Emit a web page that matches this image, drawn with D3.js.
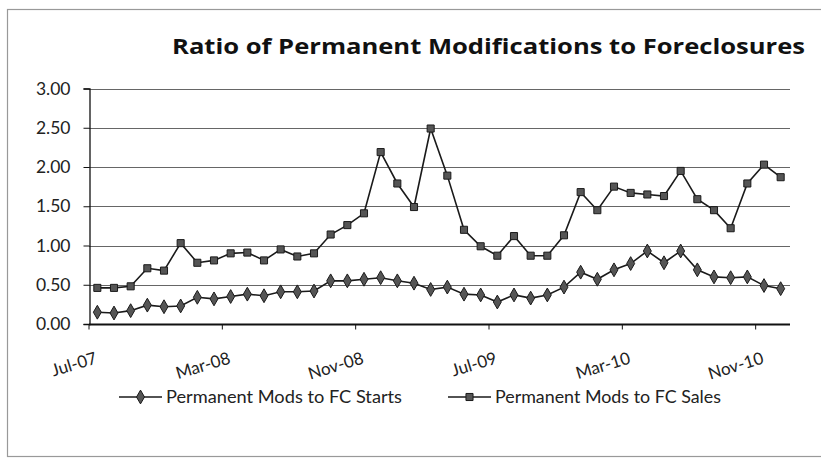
<!DOCTYPE html>
<html><head><meta charset="utf-8">
<script src="https://cdn.jsdelivr.net/npm/d3@7"></script>
<style>
html,body{margin:0;padding:0;background:#fff;}
svg{display:block;}
text{font-family:Lato,"Open Sans",sans-serif;fill:#222;}
</style></head>
<body><svg id="c" width="821" height="458"></svg>
<script>
const months = ["Jul-07","Aug-07","Sep-07","Oct-07","Nov-07","Dec-07",
"Jan-08","Feb-08","Mar-08","Apr-08","May-08","Jun-08","Jul-08","Aug-08","Sep-08","Oct-08","Nov-08","Dec-08",
"Jan-09","Feb-09","Mar-09","Apr-09","May-09","Jun-09","Jul-09","Aug-09","Sep-09","Oct-09","Nov-09","Dec-09",
"Jan-10","Feb-10","Mar-10","Apr-10","May-10","Jun-10","Jul-10","Aug-10","Sep-10","Oct-10","Nov-10","Dec-10"];
const fcStarts = [0.15,0.14,0.17,0.24,0.22,0.23,0.34,0.32,0.35,0.38,0.36,0.41,0.41,0.42,0.55,0.55,0.57,0.59,0.55,0.52,
0.44,0.47,0.38,0.37,0.28,0.37,0.33,0.37,0.47,0.66,0.57,0.69,0.77,0.93,0.78,0.93,0.69,0.60,0.59,0.60,0.49,0.45];
const fcSales = [0.46,0.46,0.48,0.71,0.68,1.03,0.78,0.81,0.90,0.91,0.81,0.95,0.86,0.90,1.14,1.26,1.41,2.19,1.79,1.49,
2.49,1.89,1.20,0.99,0.87,1.12,0.87,0.87,1.13,1.68,1.45,1.75,1.67,1.65,1.63,1.95,1.59,1.45,1.22,1.79,2.03,1.87];
const yTicks = [0,0.5,1,1.5,2,2.5,3];
const xLabelIdx = [0,8,16,24,32,40];
const seriesNames = ["Permanent Mods to FC Starts","Permanent Mods to FC Sales"];
const title = "Ratio of Permanent Modifications to  Foreclosures";

const svg = d3.select("#c");
// outer frame
svg.append("rect").attr("x",7.5).attr("y",9.5).attr("width",830).attr("height",447)
  .attr("fill","none").attr("stroke","#999").attr("stroke-width",1.2);

svg.append("text").attr("x",172).attr("y",54).attr("textLength",633).attr("lengthAdjust","spacingAndGlyphs")
  .style("font-family","'Open Sans',Lato,sans-serif")
  .style("font-size","22px").style("font-weight","bold").style("fill","#111").text(title);

const x = d3.scaleBand().domain(d3.range(months.length)).range([89,789]).paddingInner(0).paddingOuter(0);
const y = d3.scaleLinear().domain([0,3]).range([324,88.5]);
const cx = i => x(i) + x.bandwidth()/2;

// gridlines
svg.append("g").selectAll("line").data(yTicks.filter(d=>d>0)).join("line")
  .attr("x1",89).attr("x2",790).attr("y1",d=>Math.round(y(d))+0.5).attr("y2",d=>Math.round(y(d))+0.5)
  .attr("stroke","#666").attr("stroke-width",1);

// y axis
const yAxis = d3.axisLeft(y).tickValues(yTicks).tickFormat(d3.format(".2f")).tickSize(6).tickPadding(13);
const gy = svg.append("g").attr("transform","translate(89.5,0)").call(yAxis);
gy.select(".domain").attr("stroke","#111").attr("stroke-width",1.3);
gy.selectAll(".tick line").attr("stroke","#111");
gy.selectAll("text").style("font-size","17.5px").style("font-family","Lato,sans-serif").attr("fill","#222");

// x axis
const gx = svg.append("g").attr("transform","translate(0,324.5)");
gx.append("line").attr("x1",89).attr("x2",790).attr("stroke","#111").attr("stroke-width",2);
gx.selectAll("line.tk").data(xLabelIdx).join("line").attr("class","tk")
  .attr("x1",d=>x(d)).attr("x2",d=>x(d)).attr("y1",0).attr("y2",5).attr("stroke","#111");
svg.append("g").selectAll("text").data(xLabelIdx).join("text")
  .attr("transform",d=>`translate(${x(d)+9},${363}) rotate(-17)`)
  .attr("text-anchor","end").style("font-size","17px").text(d=>months[d]);

// lines
const line = d3.line().x((d,i)=>cx(i)).y(d=>y(d));
const diamond = d3.symbol().type(d3.symbolDiamond).size(55);
const square = d3.symbol().type(d3.symbolSquare).size(50);
function drawSeries(vals, sym){
  svg.append("path").datum(vals).attr("d",line).attr("fill","none").attr("stroke","#1a1a1a").attr("stroke-width",1.6);
  svg.append("g").selectAll("path").data(vals).join("path")
    .attr("d",sym).attr("transform",(d,i)=>`translate(${cx(i)},${y(d)})`)
    .attr("fill","#555").attr("stroke","#1a1a1a").attr("stroke-width",1);
}
drawSeries(fcStarts, diamond);
drawSeries(fcSales, square);

// legend
const leg = [{name:seriesNames[0],sym:diamond,x:119,w:236},{name:seriesNames[1],sym:square,x:448,w:226}];
leg.forEach(l=>{
  const g = svg.append("g").attr("transform",`translate(${l.x},397)`);
  g.append("line").attr("x1",0).attr("x2",43).attr("stroke","#1a1a1a").attr("stroke-width",1.6);
  g.append("path").attr("d",l.sym).attr("transform","translate(21.5,0)").attr("fill","#555").attr("stroke","#1a1a1a");
  g.append("text").attr("x",47).attr("y",6).attr("textLength",l.w).attr("lengthAdjust","spacingAndGlyphs")
    .style("font-size","16.5px").text(l.name);
});
</script></body></html>
